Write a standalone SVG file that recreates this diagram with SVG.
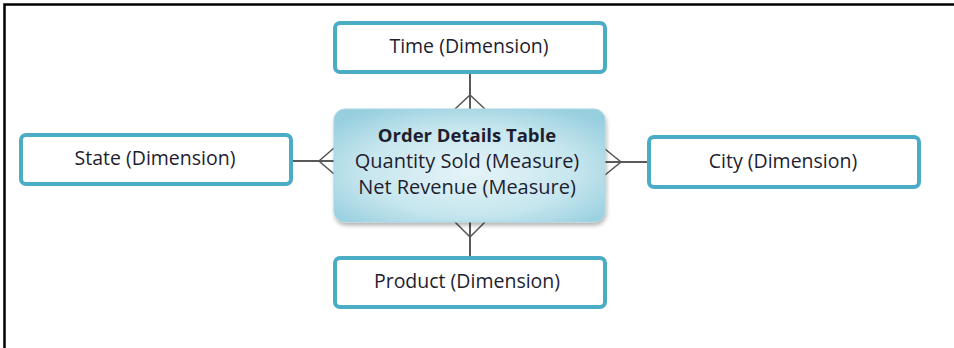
<svg xmlns="http://www.w3.org/2000/svg" width="954" height="348" viewBox="0 0 954 348">
<defs>
<style>
.dim rect{fill:#ffffff;stroke:#4bacc6;stroke-width:4}
text{font-family:"Open Sans","Liberation Sans",sans-serif;font-size:19.5px;fill:#1e1e30;text-anchor:middle}
.b{font-weight:bold;font-size:18.5px}
.m{font-size:20px}
.ln{stroke:#222;stroke-width:1.5;fill:none}
.cf{stroke:#555;stroke-width:1.5;fill:none}
</style>
<radialGradient id="g" cx="50%" cy="55%" r="65%">
<stop offset="0" stop-color="#e6f4f8"/>
<stop offset="0.6" stop-color="#c6e6ee"/>
<stop offset="1" stop-color="#98cfdf"/>
</radialGradient>
<filter id="sh" x="-10%" y="-10%" width="120%" height="130%">
<feGaussianBlur in="SourceAlpha" stdDeviation="2"/>
<feOffset dx="1" dy="3"/>
<feComponentTransfer><feFuncA type="linear" slope="0.3"/></feComponentTransfer>
<feMerge><feMergeNode/><feMergeNode in="SourceGraphic"/></feMerge>
</filter>
</defs>
<rect width="954" height="348" fill="#ffffff"/>
<path d="M4.5 348 V4.5 H954" fill="none" stroke="#000" stroke-width="2.5"/>
<g id="connectors">
<line class="ln" x1="470" y1="73" x2="470" y2="109"/>
<polyline class="cf" points="455,109 470,95 485,109"/>
<line class="ln" x1="470" y1="222" x2="470" y2="257"/>
<polyline class="cf" points="455,222 470,237 485,222"/>
<line class="ln" x1="292" y1="161" x2="334" y2="161"/>
<polyline class="cf" points="334,148 319,161 334,174"/>
<line class="ln" x1="605" y1="162" x2="648" y2="162"/>
<polyline class="cf" points="605,149 621,162 605,175"/>
</g>
<g id="center">
<rect x="334" y="109" width="271" height="113" rx="11" fill="url(#g)" stroke="#a9d6e3" stroke-width="1" filter="url(#sh)"/>
<text class="b" x="467" y="142">Order Details Table</text>
<text class="m" x="467" y="167.5">Quantity Sold (Measure)</text>
<text class="m" x="467" y="193.5">Net Revenue (Measure)</text>
</g>
<g id="time" class="dim">
<rect x="335" y="23" width="270" height="49" rx="5"/>
<text x="469" y="53">Time (Dimension)</text>
</g>
<g id="state" class="dim">
<rect x="21" y="135" width="270" height="49" rx="5"/>
<text x="155" y="165">State (Dimension)</text>
</g>
<g id="city" class="dim">
<rect x="649" y="137" width="270" height="50" rx="5"/>
<text x="783" y="167.5">City (Dimension)</text>
</g>
<g id="product" class="dim">
<rect x="335" y="258" width="270" height="49" rx="5"/>
<text x="467" y="288">Product (Dimension)</text>
</g>
</svg>
